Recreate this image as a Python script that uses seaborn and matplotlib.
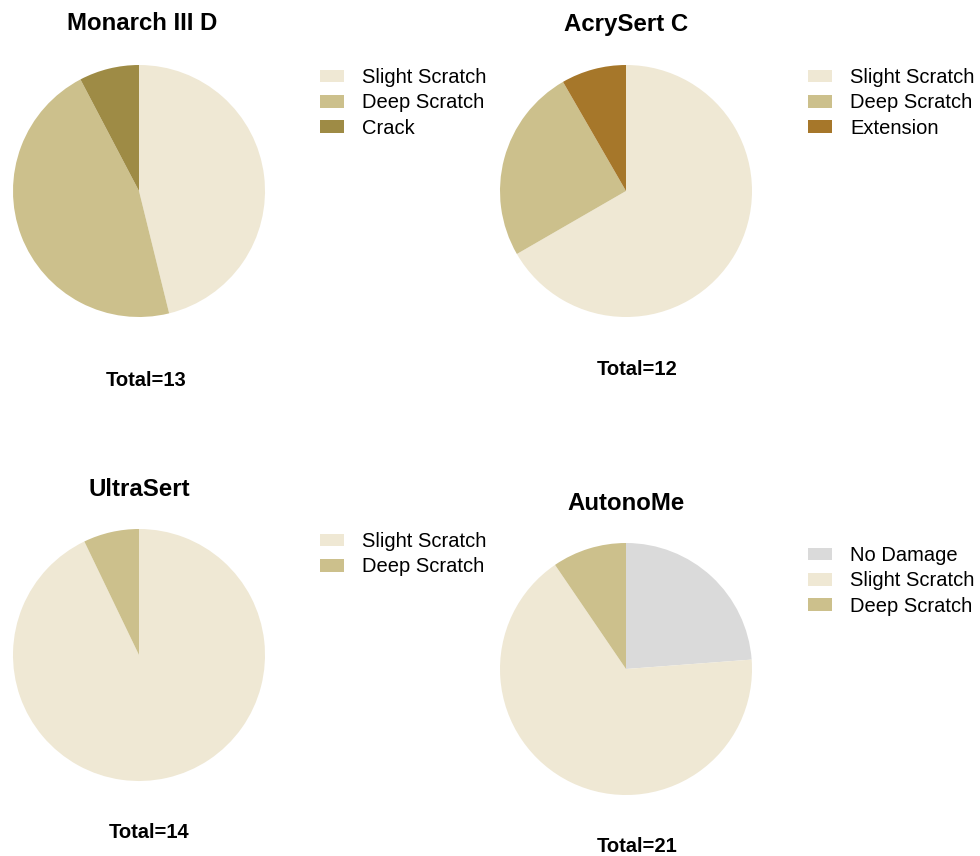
import matplotlib
matplotlib.use("Agg")
import matplotlib.pyplot as plt
from matplotlib.patches import Patch
import seaborn as sns

sns.set_theme(style="white")
plt.rcParams['font.family'] = ['Liberation Sans', 'DejaVu Sans']
plt.rcParams['text.color'] = 'black'

# Data
titles = ["Monarch III D", "AcrySert C", "UltraSert", "AutonoMe"]
labels_m = ["Slight Scratch", "Deep Scratch", "Crack"]
values_m = [6, 6, 1]
labels_a = ["Slight Scratch", "Deep Scratch", "Extension"]
values_a = [8, 3, 1]
labels_u = ["Slight Scratch", "Deep Scratch"]
values_u = [13, 1]
labels_n = ["No Damage", "Slight Scratch", "Deep Scratch"]
values_n = [5, 14, 2]

color_map = {
    "No Damage": "#DADADA",
    "Slight Scratch": "#EFE8D4",
    "Deep Scratch": "#CCC08C",
    "Crack": "#9E8B45",
    "Extension": "#A6772A",
}

W, H = 980, 856
fig = plt.figure(figsize=(W / 100, H / 100), dpi=100)

R = 126
panels = [
    # (labels, values, title, center(x,y), title_y, total(x,y), legend(x,y))
    (labels_m, values_m, titles[0], (139, 191), (142, 24), (146, 380), (320, 68)),
    (labels_a, values_a, titles[1], (626, 191), (626, 24), (637, 370), (808, 68)),
    (labels_u, values_u, titles[2], (139, 655), (139, 490), (149, 833), (320, 532)),
    (labels_n, values_n, titles[3], (626, 669), (626, 504), (637, 847), (808, 546)),
]

for labels, values, title, (cx, cy), (tx, ty), (sx, sy), (lx, ly) in panels:
    ax = fig.add_axes([(cx - R) / W, (H - cy - R) / H, 2 * R / W, 2 * R / H])
    cols = [color_map[l] for l in labels]
    ax.pie(values, colors=cols, startangle=90, counterclock=False, radius=1,
           wedgeprops=dict(linewidth=0))
    ax.set_xlim(-1, 1)
    ax.set_ylim(-1, 1)
    ax.set_aspect("equal")
    ax.axis("off")
    fig.text(tx / W, 1 - ty / H, title, ha="center", va="center",
             fontsize=17.3, fontweight="bold", color="black")
    fig.text(sx / W, 1 - sy / H, f"Total={sum(values)}", ha="center", va="center",
             fontsize=14.5, fontweight="bold", color="black")
    handles = [Patch(facecolor=c, edgecolor="none") for c in cols]
    leg = fig.legend(handles, labels, loc="upper left",
                     bbox_to_anchor=(lx / W, 1 - ly / H), frameon=False,
                     fontsize=14.5, handlelength=1.2, handleheight=0.6,
                     handletextpad=0.9, labelspacing=0.32, borderaxespad=0,
                     borderpad=0)
    for t in leg.get_texts():
        t.set_color("black")

fig.savefig("out.png", dpi=100)
